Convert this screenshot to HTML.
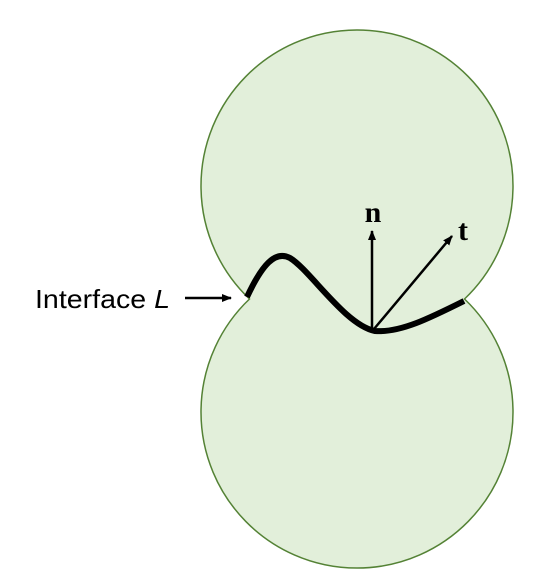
<!DOCTYPE html>
<html><head><meta charset="utf-8"><style>
html,body{margin:0;padding:0;background:#fff;width:560px;height:586px;overflow:hidden}
</style></head><body>
<svg width="560" height="586" viewBox="0 0 560 586" xmlns="http://www.w3.org/2000/svg">
<defs>
<marker id="ah" markerWidth="10" markerHeight="8" refX="9" refY="4" orient="auto" markerUnits="userSpaceOnUse">
<path d="M0,0 L10,4 L0,8 Z" fill="#000"/>
</marker>
</defs>
<path
 d="M249.5,299 A156,156 0 1 1 464.5,299 A156,156 0 1 1 249.5,299 Z"
 fill="#e2efda" stroke="#548235" stroke-width="1.5"/>
<path
 d="M247,297 C262,265 275,250 290,258 C310,270 345,325 375,331 C400,333 430,318 464,301"
 fill="none" stroke="#000" stroke-width="6"/>
<line x1="372" y1="329" x2="372" y2="231" stroke="#000" stroke-width="2.5" marker-end="url(#ah)"/>
<line x1="374" y1="329" x2="452" y2="236" stroke="#000" stroke-width="2.5" marker-end="url(#ah)"/>
<text x="373" y="222" text-anchor="middle" font-family="Liberation Serif, serif" font-weight="bold" font-size="30">n</text>
<text x="463" y="240" text-anchor="middle" font-family="Liberation Serif, serif" font-weight="bold" font-size="30">t</text>
<text x="35" y="308" font-family="Liberation Sans, sans-serif" font-size="26" textLength="135" lengthAdjust="spacingAndGlyphs">Interface <tspan font-style="italic">L</tspan></text>
<line x1="185" y1="298" x2="231" y2="298" stroke="#000" stroke-width="2.5" marker-end="url(#ah)"/>
</svg>
</body></html>
